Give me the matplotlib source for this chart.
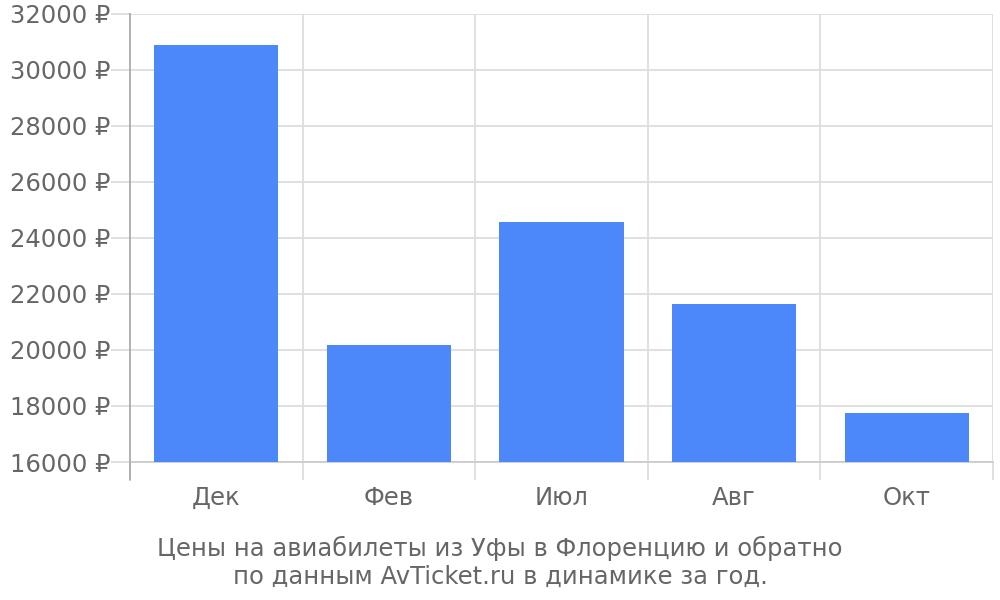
import matplotlib

matplotlib.use("Agg")
import matplotlib.pyplot as plt
from matplotlib.ticker import FuncFormatter, MultipleLocator

months = ["Дек", "Фев", "Июл", "Авг", "Окт"]
prices = [30900, 20180, 24560, 21660, 17760]
y_ticks = list(range(16000, 32001, 2000))
caption = ("Цены на авиабилеты из Уфы в Флоренцию и обратно\n"
           "по данным AvTicket.ru в динамике за год.")

text_color = "#666666"
grid_color = "#dddddd"
bar_color = "#4c88f9"

plt.rcParams["font.family"] = ["DejaVu Sans"]

fig = plt.figure(figsize=(10, 6), dpi=100)
ax = fig.add_axes([0.130, 0.230, 0.863, 0.7467])

xs = list(range(len(months)))
ax.bar(xs, prices, width=0.72, color=bar_color, zorder=3)

ax.set_xlim(-0.5, len(months) - 0.5)
ax.set_ylim(16000, 32000)

# horizontal grid, ticks extend left of the axis
ax.set_yticks(y_ticks)
ax.yaxis.set_major_formatter(FuncFormatter(lambda v, _p: f"{v:.0f} ₽"))
ax.grid(axis="y", color=grid_color, linewidth=1.3, zorder=0)
ax.tick_params(axis="y", length=14, width=1.3, color=grid_color,
               labelsize=17.5, labelcolor=text_color, pad=0)

# category labels at centers, boundary ticks below axis
ax.set_xticks(xs)
ax.set_xticklabels(months)
ax.tick_params(axis="x", which="major", length=0, labelsize=17.5,
               labelcolor=text_color, pad=17)
ax.xaxis.set_minor_locator(MultipleLocator(1, offset=0.5))
ax.tick_params(axis="x", which="minor", length=13, width=1.3, color=grid_color)
for b in range(1, len(months) + 1):
    ax.axvline(b - 0.5, color=grid_color, linewidth=1.3, zorder=0)

for side in ["top", "right"]:
    ax.spines[side].set_visible(False)
ax.spines["bottom"].set_color("#cccccc")
ax.spines["bottom"].set_linewidth(1.3)
ax.spines["left"].set_color("#aaaaaa")
ax.spines["left"].set_linewidth(1.3)

# extend left spine below axis like the reference
ax.annotate("", xy=(-0.5, 0), xycoords=ax.get_xaxis_transform(),
            xytext=(0, -18), textcoords="offset pixels",
            arrowprops=dict(arrowstyle="-", color="#aaaaaa", lw=1.3,
                            shrinkA=0, shrinkB=0))

fig.text(0.5, 0.063, caption, ha="center", va="center", fontsize=17.5,
         color=text_color, linespacing=1.2)

fig.savefig("out.png", dpi=100)
